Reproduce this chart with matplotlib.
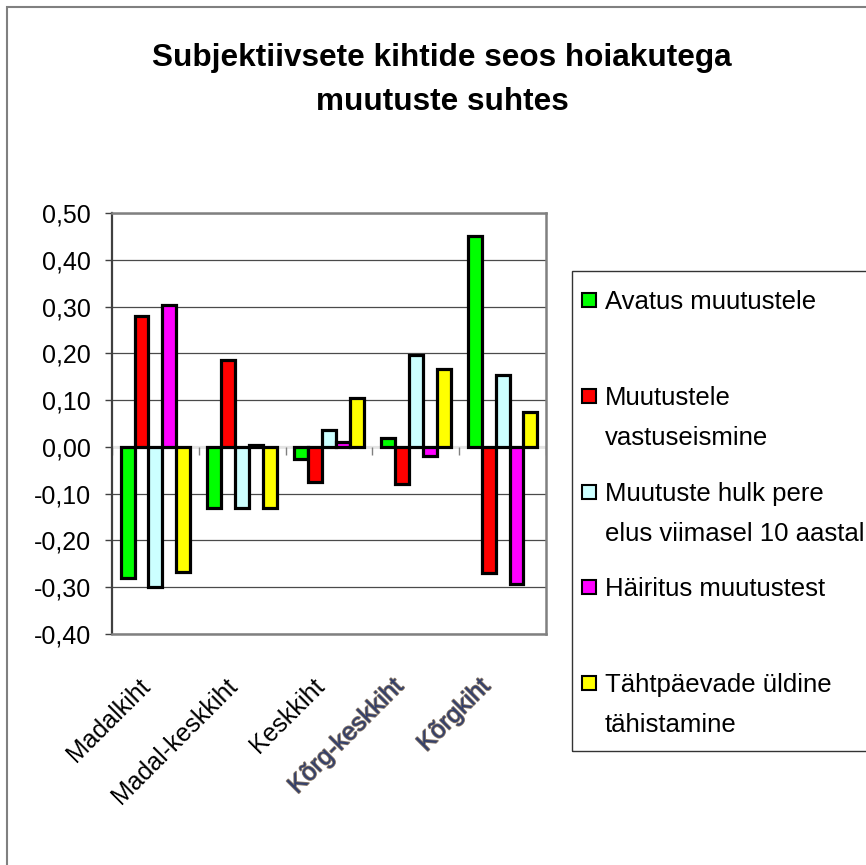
import numpy as np
import matplotlib.pyplot as plt
import matplotlib.transforms as mtransforms
import matplotlib.patheffects as pe
from matplotlib.patches import Rectangle
from matplotlib.ticker import FuncFormatter

plt.rcParams['font.family'] = ['Liberation Sans', 'DejaVu Sans']

title = "Subjektiivsete kihtide seos hoiakutega\nmuutuste suhtes"
categories = ["Madalkiht", "Madal-keskkiht", "Keskkiht", "Kõrg-keskkiht", "Kõrgkiht"]
series = ["Avatus muutustele",
          "Muutustele\nvastuseismine",
          "Muutuste hulk pere\nelus viimasel 10 aastal",
          "Häiritus muutustest",
          "Tähtpäevade üldine\ntähistamine"]
colors = ["#00ff00", "#ff0000", "#ccffff", "#ff00ff", "#ffff00"]

avatus = [-0.28, -0.13, -0.025, 0.018, 0.45]
vastu = [0.28, 0.185, -0.075, -0.08, -0.27]
hulk = [-0.30, -0.13, 0.037, 0.197, 0.153]
hairitus = [0.303, 0.005, 0.01, -0.02, -0.293]
tahtpaev = [-0.267, -0.13, 0.105, 0.167, 0.075]
values = [avatus, vastu, hulk, hairitus, tahtpaev]

W, H = 866, 865
fig = plt.figure(figsize=(W / 100, H / 100), dpi=100)


def fx(x):
    return x / W


def fy(y):
    return 1 - y / H


# outer chart border
fig.patches.append(Rectangle((fx(7), fy(880)), fx(880), fy(7) - fy(880),
                             transform=fig.transFigure, fill=False,
                             edgecolor="#808080", lw=1.5))

ax = fig.add_axes([fx(112), fy(634), fx(546) - fx(112), fy(213) - fy(634)])

x = np.arange(len(categories))
bw = 0.16
for i, (name, vals, c) in enumerate(zip(series, values, colors)):
    ax.bar(x + (i - 2) * bw, vals, bw, color=c, edgecolor="black", lw=2.3, zorder=3)

ax.set_xlim(-0.5, len(categories) - 0.5)
ax.set_ylim(-0.4, 0.5)
ax.set_yticks(np.arange(-0.4, 0.501, 0.1))
ax.yaxis.set_major_formatter(FuncFormatter(lambda v, p: f"{v:.2f}".replace(".", ",").replace("-0,00", "0,00")))
ax.tick_params(axis="y", length=5, width=1, color="#404040", pad=10, labelsize=18)
ax.set_axisbelow(True)
ax.yaxis.grid(True, color="#4a4a4a", lw=0.9)
ax.axhline(0, color="#e4e4e4", lw=1.6, zorder=1)

# category axis ticks at zero line
ax.vlines(np.arange(len(categories) + 1) - 0.5, -0.017, 0, color="#808080", lw=1, zorder=1)

ax.set_xticks(x)
ax.set_xticklabels(categories, rotation=45, ha="right", fontsize=18)
ax.tick_params(axis="x", length=0, pad=29)
shift = mtransforms.ScaledTranslation(-8 / 100, 0, fig.dpi_scale_trans)
for lab in ax.get_xticklabels()[3:]:
    lab.set_color("#34406a")
    lab.set_path_effects([pe.withStroke(linewidth=1.2, foreground="#8a7a6a")])
    lab.set_transform(lab.get_transform() + shift)

for s in ["top", "right", "bottom"]:
    ax.spines[s].set_color("#808080")
    ax.spines[s].set_linewidth(1.8)
ax.spines["left"].set_color("#404040")
ax.spines["left"].set_linewidth(1.6)

fig.text(fx(442), fy(80), title, ha="center", va="center", fontsize=22.7,
         fontweight="bold", linespacing=1.6)

# legend
fig.patches.append(Rectangle((fx(572), fy(751)), fx(400), fy(271) - fy(751),
                             transform=fig.transFigure, fill=False,
                             edgecolor="#333333", lw=1))
for i, (name, c) in enumerate(zip(series, colors)):
    yc = 300 + i * 95.8
    fig.patches.append(Rectangle((fx(582), fy(yc + 7)), fx(14), fy(yc - 7) - fy(yc + 7),
                                 transform=fig.transFigure, facecolor=c,
                                 edgecolor="black", lw=1.5))
    for k, line in enumerate(name.split("\n")):
        fig.text(fx(605), fy(yc + 9 + k * 40), line, fontsize=18.5, va="baseline", ha="left")

fig.savefig("out.png", dpi=100)
